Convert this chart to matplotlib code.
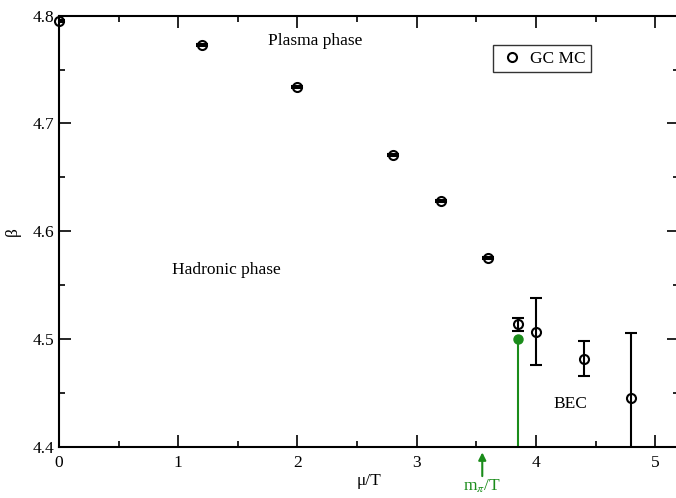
import matplotlib
matplotlib.use("Agg")
import matplotlib.pyplot as plt
from matplotlib.lines import Line2D

plt.rcParams['font.family'] = ['Liberation Serif', 'DejaVu Serif']
plt.rcParams['mathtext.fontset'] = 'stix'

# GC MC data
mu_T = [0.0, 1.2, 2.0, 2.8, 3.2, 3.6, 3.85, 4.0, 4.4, 4.8]
beta = [4.795, 4.773, 4.734, 4.671, 4.628, 4.575, 4.514, 4.507, 4.482, 4.445]
beta_err = [0.0008, 0.0008, 0.0008, 0.0008, 0.0008, 0.0008, 0.006, 0.031, 0.016, 0.061]

# green point (m_pi/T line)
green_x = [3.85]
green_y = [4.50]
mpi_T = 3.55

green = '#1a8c1a'

fig = plt.figure(figsize=(6.76, 4.98), dpi=100)
ax = fig.add_axes([59/676, 51/498, 620/676, 431.4/498])

# error bars clipped to the axes, markers not
ax.errorbar(mu_T, beta, yerr=beta_err, fmt='none', ecolor='black',
            elinewidth=1.5, capsize=4.2, capthick=1.5, zorder=3)
ax.plot(mu_T, beta, 'o', mfc='none', mec='black', ms=6.5, mew=1.5,
        clip_on=False, zorder=4)

ax.vlines(green_x, 4.4, green_y, color=green, lw=1.5, zorder=2)
ax.plot(green_x, green_y, 'o', color=green, ms=6.5, zorder=4)

ax.set_xlim(0, 5.2)
ax.set_ylim(4.4, 4.8)
ax.set_xticks([0, 1, 2, 3, 4, 5])
ax.set_xticks([0.5, 1.5, 2.5, 3.5, 4.5], minor=True)
ax.set_yticks([4.4, 4.5, 4.6, 4.7, 4.8])
ax.set_yticks([4.45, 4.55, 4.65, 4.75], minor=True)
ax.tick_params(which='both', direction='in', top=True, right=True, width=1.2,
               labelsize=12.5)
ax.tick_params(axis='x', which='major', pad=6)
ax.tick_params(which='major', length=8.5)
ax.tick_params(which='minor', length=4.3)
for s in ax.spines.values():
    s.set_linewidth(1.5)

ax.set_xlabel('μ/T', fontsize=12.5, labelpad=1)
ax.set_ylabel('β', fontsize=12.5, labelpad=8)

ax.text(1.75, 4.776, 'Plasma phase', fontsize=12.5, va='center')
ax.text(0.95, 4.564, 'Hadronic phase', fontsize=12.5, va='center')
ax.text(4.15, 4.44, 'BEC', fontsize=12.5, va='center')

ax.annotate('', xy=(mpi_T, 4.4 - 0.005), xytext=(mpi_T, 4.4 - 0.027),
            xycoords='data', annotation_clip=False,
            arrowprops=dict(arrowstyle='-|>', color=green, lw=1.5,
                            mutation_scale=11, shrinkA=0, shrinkB=0))
ax.text(mpi_T, 4.4 - 0.028, r'm$_{\pi}$/T', color=green, fontsize=12.5,
        ha='center', va='top', clip_on=False)

handle = Line2D([], [], ls='none', marker='o', mfc='none', mec='black',
                ms=6.5, mew=1.5)
leg = ax.legend([handle], ['GC MC'], loc='upper left',
                bbox_to_anchor=(0.700, 0.931), frameon=True,
                fancybox=False, edgecolor='black', fontsize=12.5,
                handletextpad=0.25, borderpad=0.3, handlelength=1.6,
                borderaxespad=0)
leg.get_frame().set_linewidth(1.0)

fig.savefig('out.png', dpi=100)
